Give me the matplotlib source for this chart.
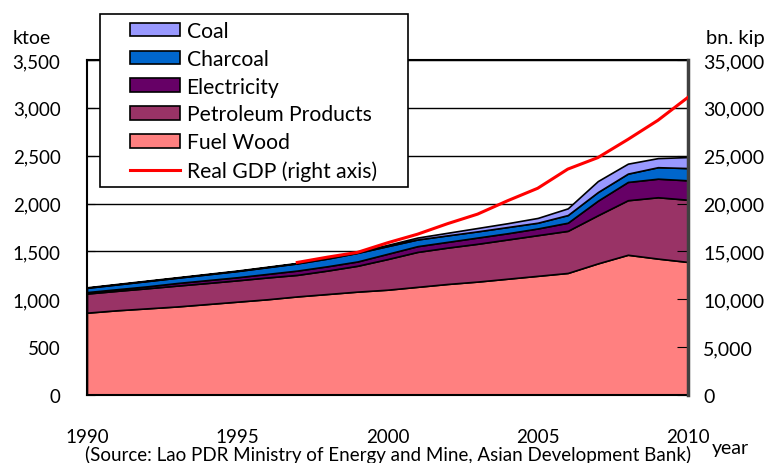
import numpy as np
import matplotlib
matplotlib.use("Agg")
import matplotlib.pyplot as plt
from matplotlib.patches import Patch, Rectangle
from matplotlib.lines import Line2D

plt.rcParams['font.family'] = ['Lato', 'DejaVu Sans']

#%% DATA (ktoe, GDP in bn. kip)

years = np.arange(1990, 2011)
fuel_wood = [860, 885, 905, 925, 950, 975, 1000, 1030, 1055, 1080, 1100,
             1130, 1160, 1185, 1215, 1245, 1275, 1375, 1465, 1425, 1390]
petroleum = [200, 203, 210, 218, 220, 223, 228, 225, 245, 270, 320,
             365, 380, 395, 410, 425, 440, 503, 570, 641, 650]
electricity = [15, 17, 20, 27, 30, 32, 37, 45, 45, 45, 55,
               60, 60, 65, 65, 70, 85, 152, 191, 194, 203]
charcoal = [45, 50, 55, 55, 60, 65, 70, 75, 80, 90, 80,
            70, 68, 65, 65, 60, 80, 90, 87, 120, 128]
coal = [5, 5, 5, 5, 5, 5, 5, 5, 10, 10, 13,
        20, 27, 35, 40, 50, 70, 115, 104, 95, 115]

gdp_years = np.arange(1997, 2011)
gdp = [13850, 14400, 14900, 15900, 16800, 17900, 18900, 20300,
       21600, 23600, 24800, 26700, 28700, 31100]

labels = ['Fuel Wood', 'Petroleum Products', 'Electricity', 'Charcoal', 'Coal']
colors = ['#FF8080', '#993366', '#660066', '#0066CC', '#9999FF']

#%% GRAPHE

fig = plt.figure(figsize=(7.73, 4.64), dpi=100)
ax = fig.add_axes([0.1125, 0.1466, 0.7775, 0.7219])

ax.stackplot(years, fuel_wood, petroleum, electricity, charcoal, coal,
             colors=colors, edgecolor='black', linewidth=1.2, zorder=2)
ax.set_xlim(1990, 2010)
ax.set_ylim(0, 3500)
ax.set_yticks(np.arange(0, 3501, 500))
ax.set_yticklabels([f'{v:,}' for v in range(0, 3501, 500)])
ax.yaxis.grid(True, color='black', linewidth=1.0, zorder=0)
ax.set_axisbelow(True)
ax.set_xticks([1990, 1995, 2000, 2005, 2010])
ax.set_xticks(years, minor=True)
ax.tick_params(axis='x', which='both', direction='in', length=4, pad=24,
               labelsize=13.5)
ax.tick_params(axis='y', direction='in', length=6, pad=19, labelsize=13.5)
for s in ['left', 'bottom', 'top']:
    ax.spines[s].set_linewidth(1.5)
ax.spines['right'].set_visible(False)

ax2 = ax.twinx()
ax2.plot(gdp_years, gdp, color='#FF0000', linewidth=2.2, zorder=3)
ax2.set_ylim(0, 35000)
ax2.set_yticks(np.arange(0, 35001, 5000))
ax2.set_yticklabels([f'{v:,}' for v in range(0, 35001, 5000)])
ax2.tick_params(axis='y', direction='in', length=8, pad=11, labelsize=14)
ax2.spines['right'].set_linewidth(2.5)
ax2.spines['right'].set_color('#404040')
for s in ['left', 'bottom', 'top']:
    ax2.spines[s].set_visible(False)

fig.text(0.016, 0.905, 'ktoe', fontsize=14)
fig.text(0.913, 0.905, 'bn. kip', fontsize=14.5)
fig.text(0.921, 0.022, 'year', fontsize=14)
fig.text(0.502, 0.0, '(Source: Lao PDR Ministry of Energy and Mine, Asian Development Bank)',
         fontsize=13.5, ha='center', va='bottom')

# legend box (wider side margins than matplotlib's default frame)
fig.patches.append(Rectangle((100 / 773, 1 - 188 / 464), 308 / 773, 173 / 464,
                             transform=fig.transFigure, facecolor='white',
                             edgecolor='black', linewidth=1.2, zorder=4))

handles = [Patch(facecolor=c, edgecolor='black', linewidth=1.2)
           for c in colors[::-1]]
handles.append(Line2D([0], [0], color='#FF0000', linewidth=2.2))
leg = fig.legend(handles, labels[::-1] + ['Real GDP (right axis)'],
                 loc='upper left', bbox_to_anchor=(130 / 773, 1 - 22 / 464),
                 fontsize=15.2, frameon=False,
                 handlelength=2.35, handleheight=0.6, labelspacing=0.37,
                 borderpad=0, handletextpad=0.33, borderaxespad=0)
leg.set_zorder(5)

fig.savefig('out.png', dpi=100)
